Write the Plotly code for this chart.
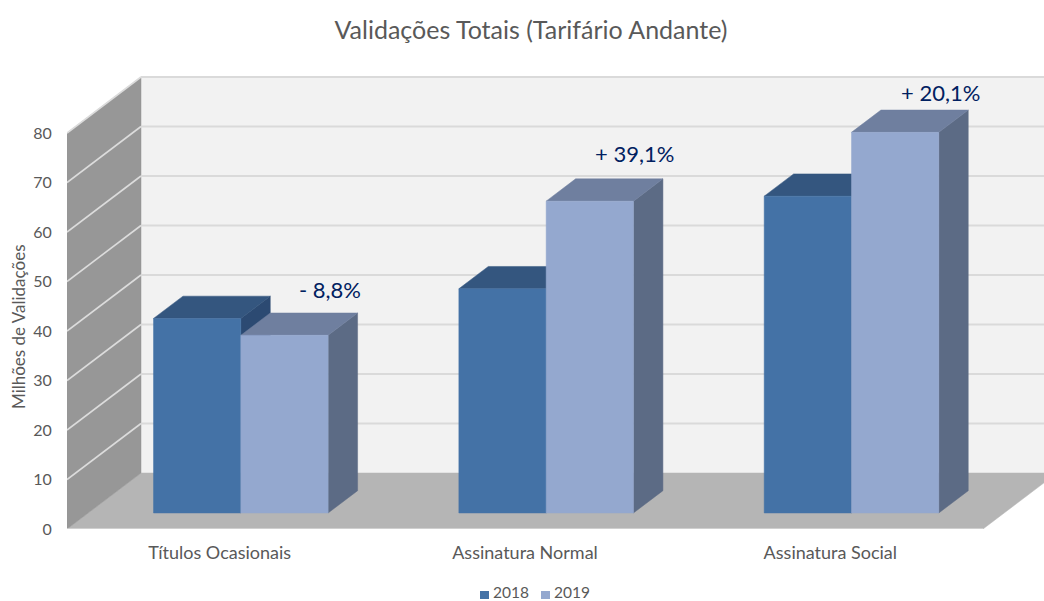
import plotly.graph_objects as go

# ---- data ----
categories = ["Títulos Ocasionais", "Assinatura Normal", "Assinatura Social"]
series_names = ["2018", "2019"]
values_2018 = [39.3, 45.3, 64.0]
values_2019 = [35.9, 63.0, 76.9]
change_labels = ["- 8,8%", "+ 39,1%", "+ 20,1%"]
y_ticks = [0, 10, 20, 30, 40, 50, 60, 70, 80]

# ---- oblique projection, in axis units ----
PX_X = 305.33
PX_Y = 4.95
DX = 74 / PX_X
DY = 56 / PX_Y
X_MAX = 977 / PX_X
Y_MAX = 459 / PX_Y
DF, DB = 0.286, 0.684
BW = 87.3 / PX_X


def P(x, y, d):
    return x + d * DX, y + d * DY


def poly(pts, color, line=None):
    xs, ys = zip(*[P(*p) for p in pts])
    return go.Scatter(
        x=list(xs) + [xs[0]], y=list(ys) + [ys[0]], mode="lines", fill="toself",
        fillcolor=color, line=dict(color=line or color, width=1 if line else 0.5),
        hoverinfo="skip", showlegend=False)


def seg(a, b, color, width=2):
    pa, pb = P(*a), P(*b)
    return go.Scatter(x=[pa[0], pb[0]], y=[pa[1], pb[1]], mode="lines",
                      line=dict(color=color, width=width), hoverinfo="skip", showlegend=False)


fig = go.Figure()
N = len(categories)
TOP = y_ticks[-1]
# walls
fig.add_trace(poly([(0, 0, 1), (N, 0, 1), (N, TOP, 1), (0, TOP, 1)], "#F2F2F2"))
fig.add_trace(poly([(0, 0, 0), (N, 0, 0), (N, 0, 1), (0, 0, 1)], "#B5B5B5"))
fig.add_trace(poly([(0, 0, 0), (0, 0, 1), (0, TOP, 1), (0, TOP, 0)], "#979797"))
for t in y_ticks[1:]:
    fig.add_trace(seg((0, t, 1), (N, t, 1), "#DADADA", 2))
    fig.add_trace(seg((0, t, 0), (0, t, 1), "#DCDCDC", 1.6))
fig.add_trace(seg((0, 0, 0), (N, 0, 0), "#D9D9D9", 1.5))

# bars
styles = [("#4472A6", "#34567F", "#2C4A72"), ("#94A8CF", "#6F7F9F", "#5C6B85")]
for i in range(N):
    c = i + 0.5
    for s, vals in enumerate([values_2018, values_2019]):
        v = vals[i]
        x0 = c + (s - 1) * BW
        x1 = x0 + BW
        front, top, side = styles[s]
        fig.add_trace(poly([(x1, 0, DF), (x1, 0, DB), (x1, v, DB), (x1, v, DF)], side))
        fig.add_trace(poly([(x0, v, DF), (x1, v, DF), (x1, v, DB), (x0, v, DB)], top))
        fig.add_trace(poly([(x0, 0, DF), (x1, 0, DF), (x1, v, DF), (x0, v, DF)], front))

FONT = "Lato"
GRAY = "#595959"
NAVY = "#002060"
anns = []
rise = [23, 25, 18]
for i, lab in enumerate(change_labels):
    bx, by = P(i + 0.5 + BW, values_2019[i], DB)
    anns.append(dict(x=bx, y=by, xref="x", yref="y", text=lab, showarrow=False,
                     xshift=-28, yshift=rise[i],
                     font=dict(family=FONT, size=22, color=NAVY)))
anns.append(dict(xref="paper", yref="paper", x=-49 / 977, y=(529 - 327) / 459, text="Milhões de Validações",
                 xanchor="center", yanchor="middle",
                 textangle=-90, showarrow=False, font=dict(family=FONT, size=17, color=GRAY)))
# legend row
shapes = []
for name, color, px_box, px_text in zip(series_names, [styles[0][0], styles[1][0]], [480, 541], [511, 572]):
    shapes.append(dict(type="rect", xref="paper", yref="paper",
                       x0=(px_box - 67) / 977, x1=(px_box + 9 - 67) / 977,
                       y0=(529 - 599) / 459, y1=(529 - 591) / 459,
                       fillcolor=color, line=dict(width=0)))
    anns.append(dict(xref="paper", yref="paper", x=(px_text - 67) / 977, y=(529 - 592) / 459, text=name,
                     xanchor="center", yanchor="middle", borderpad=0,
                     showarrow=False, font=dict(family=FONT, size=15.5, color=GRAY)))

fig.update_layout(
    width=1044, height=601,
    margin=dict(l=67, r=0, t=70, b=72, autoexpand=False),
    paper_bgcolor="white", plot_bgcolor="white", showlegend=False,
    title=dict(text="Validações Totais (Tarifário Andante)", x=531 / 1044, xanchor="center",
               y=1 - 30 / 601, yanchor="middle", font=dict(family=FONT, size=25, color=GRAY)),
    xaxis=dict(range=[0, X_MAX], tickvals=[i + 0.5 for i in range(N)], ticktext=categories,
               showgrid=False, zeroline=False, showline=False, ticks="outside", ticklen=7,
               tickcolor="rgba(0,0,0,0)", tickfont=dict(family=FONT, size=18, color=GRAY)),
    yaxis=dict(range=[0, Y_MAX], tickvals=y_ticks, showgrid=False, zeroline=False, showline=False,
               ticks="outside", ticklen=11, tickcolor="rgba(0,0,0,0)",
               tickfont=dict(family=FONT, size=16, color=GRAY)),
    annotations=anns, shapes=shapes,
)
fig.write_html("out.html", post_script="document.body.style.margin='0';",
               config={"displayModeBar": False})
